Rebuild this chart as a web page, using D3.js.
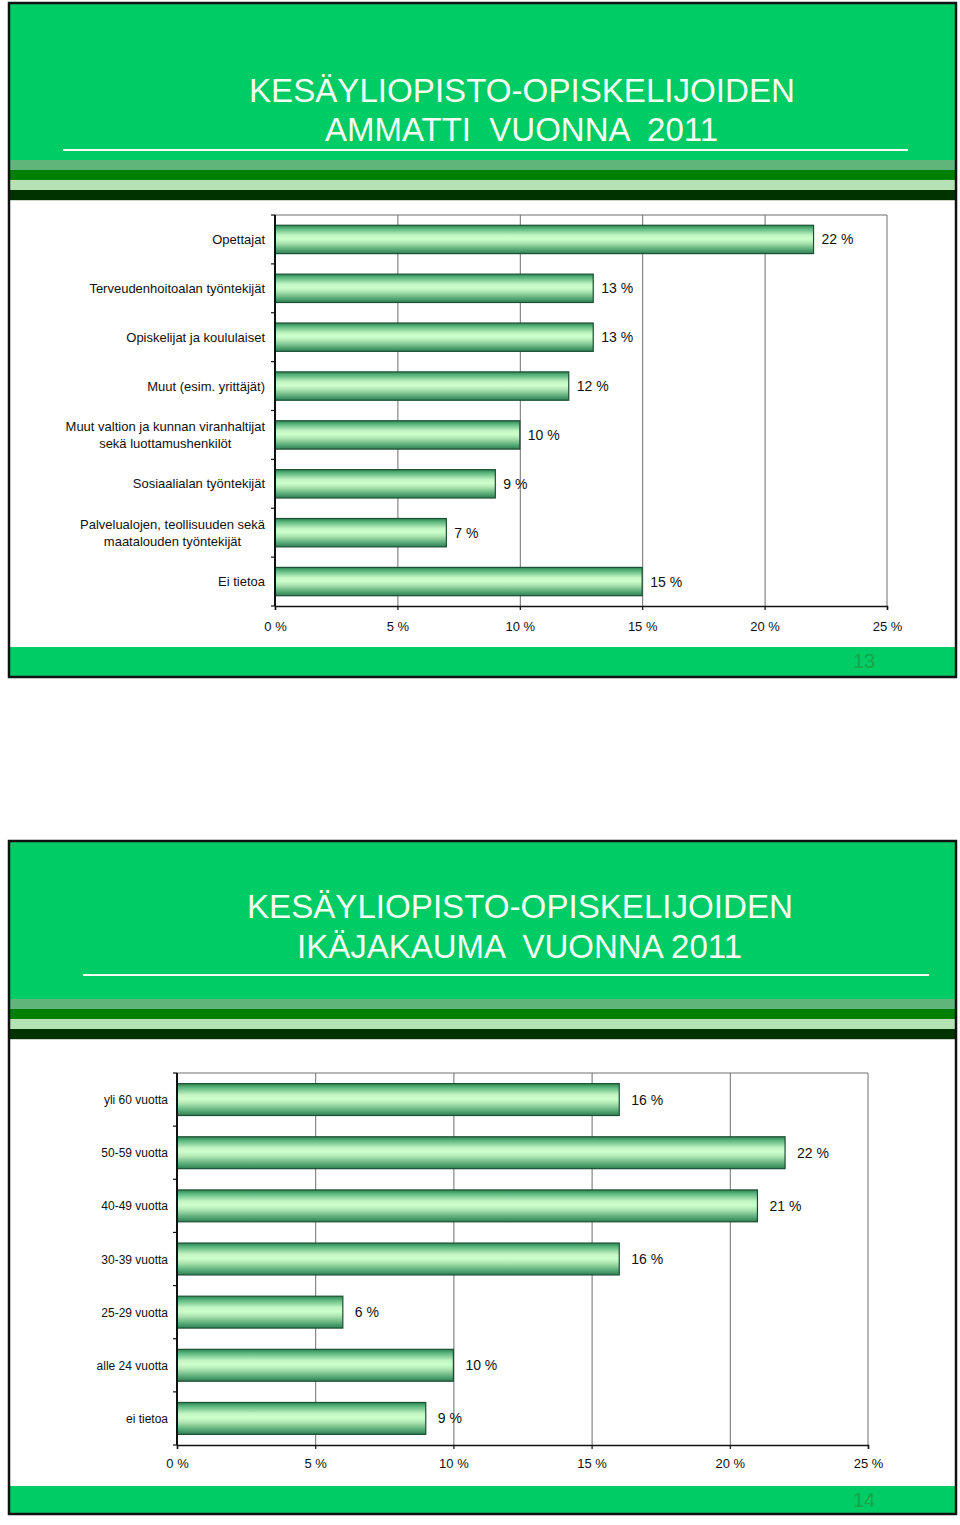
<!DOCTYPE html>
<html>
<head>
<meta charset="utf-8">
<script src="https://cdn.jsdelivr.net/npm/d3@7"></script>
<style>
  html, body { margin: 0; padding: 0; background: #ffffff; }
  svg { display: block; font-family: "Liberation Sans", Arial, Helvetica, sans-serif; }
</style>
</head>
<body>
<svg id="chart" width="960" height="1525"></svg>
<script>
// ---------- DATA ----------
const title1Lines = ["KESÄYLIOPISTO-OPISKELIJOIDEN", "AMMATTI  VUONNA  2011"];
const title2Lines = ["KESÄYLIOPISTO-OPISKELIJOIDEN", "IKÄJAKAUMA  VUONNA 2011"];

const occCategories = [
  "Opettajat",
  "Terveudenhoitoalan työntekijät",
  "Opiskelijat ja koululaiset",
  "Muut (esim. yrittäjät)",
  "Muut valtion ja kunnan viranhaltijat\nsekä luottamushenkilöt",
  "Sosiaalialan työntekijät",
  "Palvelualojen, teollisuuden sekä\nmaatalouden työntekijät",
  "Ei tietoa"
];
const occValues = [22, 13, 13, 12, 10, 9, 7, 15];

const ageCategories = [
  "yli 60 vuotta",
  "50-59 vuotta",
  "40-49 vuotta",
  "30-39 vuotta",
  "25-29 vuotta",
  "alle 24 vuotta",
  "ei tietoa"
];
const ageValues = [16, 22, 21, 16, 6, 10, 9];

const xTickValues = [0, 5, 10, 15, 20, 25];
const pageNumbers = ["13", "14"];

// ---------- DRAWING ----------
const svg = d3.select("#chart");

const defs = svg.append("defs");
const grad = defs.append("linearGradient")
  .attr("id", "barGrad").attr("x1", 0).attr("y1", 0).attr("x2", 0).attr("y2", 1);
[
  [0, "#2a8550"], [0.12, "#5cb67e"], [0.35, "#c2f5c2"], [0.48, "#ccffcc"],
  [0.62, "#aee6b2"], [0.85, "#5aab78"], [1, "#2c7f52"]
].forEach(([o, c]) => grad.append("stop").attr("offset", o).attr("stop-color", c));

const GREEN = "#00cc66";
const stripeColors = ["#5fb57a", "#008000", "#b5e2b5", "#003300"];

function drawPanel(p) {
  const g = svg.append("g");
  g.append("rect").attr("x", p.left).attr("y", p.top)
    .attr("width", p.right - p.left).attr("height", p.bottom - p.top)
    .attr("fill", "#ffffff");
  g.append("rect").attr("x", p.left).attr("y", p.top)
    .attr("width", p.right - p.left).attr("height", p.headerBottom - p.top)
    .attr("fill", GREEN);
  stripeColors.forEach((c, i) => {
    g.append("rect").attr("x", p.left).attr("y", p.headerBottom + i * 10)
      .attr("width", p.right - p.left).attr("height", 10.2).attr("fill", c);
  });
  p.titleLines.forEach((t, i) => {
    g.append("text")
      .attr("x", p.titleX[i]).attr("y", p.titleY[i])
      .attr("text-anchor", "middle")
      .attr("fill", "#f4fff4")
      .attr("font-size", 34)
      .style("white-space", "pre")
      .attr("textLength", p.titleW[i])
      .attr("lengthAdjust", "spacingAndGlyphs")
      .text(t);
  });
  g.append("line").attr("x1", p.ulX1).attr("x2", p.ulX2)
    .attr("y1", p.ulY).attr("y2", p.ulY)
    .attr("stroke", "#f4fff4").attr("stroke-width", 2);
  g.append("rect").attr("x", p.left).attr("y", p.footTop)
    .attr("width", p.right - p.left).attr("height", p.bottom - p.footTop)
    .attr("fill", GREEN);
  g.append("text").attr("x", 864).attr("y", p.footTop + 21)
    .attr("text-anchor", "middle").attr("font-size", 20)
    .attr("fill", "#17a648").text(p.pageNo);
  g.append("rect").attr("x", p.left).attr("y", p.top)
    .attr("width", p.right - p.left).attr("height", p.bottom - p.top)
    .attr("fill", "none").attr("stroke", "#111").attr("stroke-width", 2.5);
}

function drawBars(c) {
  const g = svg.append("g");
  const x = d3.scaleLinear().domain([0, 25]).range([c.x0, c.x1]);
  const y = d3.scaleBand().domain(c.categories).range([c.y0, c.y1])
    .paddingInner(c.pad).paddingOuter(c.pad / 2);
  const yOuter = d3.scaleBand().domain(c.categories).range([c.y0, c.y1]);

  g.append("g").attr("transform", `translate(0,${c.y1})`)
    .call(d3.axisBottom(x).tickValues(xTickValues.slice(1, -1)).tickSize(-(c.y1 - c.y0)).tickFormat(""))
    .call(s => s.select(".domain").remove())
    .call(s => s.selectAll("line").attr("stroke", "#6e6e6e").attr("stroke-width", 1));
  g.append("line").attr("x1", c.x0).attr("x2", x(25)).attr("y1", c.y0).attr("y2", c.y0)
    .attr("stroke", "#6e6e6e");
  g.append("line").attr("x1", x(25)).attr("x2", x(25)).attr("y1", c.y0).attr("y2", c.y1)
    .attr("stroke", "#6e6e6e");

  const vals = c.values;
  g.selectAll("rect.bar").data(c.categories).join("rect")
    .attr("class", "bar")
    .attr("x", x(0))
    .attr("y", d => y(d))
    .attr("width", (d, i) => x(vals[i]) - x(0))
    .attr("height", y.bandwidth())
    .attr("fill", "url(#barGrad)")
    .attr("stroke", "#1d4f33").attr("stroke-width", 1.2);

  g.selectAll("text.val").data(c.categories).join("text")
    .attr("class", "val")
    .attr("x", (d, i) => x(vals[i]) + c.labelGap)
    .attr("y", d => y(d) + y.bandwidth() / 2 + 5)
    .attr("font-size", 14).attr("fill", "#111")
    .text((d, i) => vals[i] + " %");

  g.append("g").attr("transform", `translate(0,${c.y1})`)
    .call(d3.axisBottom(x).tickValues(xTickValues).tickSize(4).tickPadding(c.tickPad)
      .tickFormat(d => d + " %"))
    .call(s => s.select(".domain").attr("stroke", "#111").attr("stroke-width", 1.5))
    .call(s => s.selectAll("line").attr("stroke", "#111").attr("stroke-width", 1.2))
    .call(s => s.selectAll("text").attr("font-size", 13).attr("fill", "#111")
      .attr("font-family", "'Liberation Sans', Arial, sans-serif"));

  g.append("line").attr("x1", x(0)).attr("x2", x(0)).attr("y1", c.y0).attr("y2", c.y1)
    .attr("stroke", "#111").attr("stroke-width", 2);
  const bounds = c.categories.map(d => yOuter(d)).concat([c.y1]);
  g.selectAll("line.ytick").data(bounds).join("line")
    .attr("class", "ytick")
    .attr("x1", x(0) - 4).attr("x2", x(0))
    .attr("y1", d => d).attr("y2", d => d)
    .attr("stroke", "#111").attr("stroke-width", 1.2);

  c.categories.forEach(d => {
    const lines = d.split("\n");
    const cy = yOuter(d) + yOuter.bandwidth() / 2;
    const t = g.append("text").attr("font-size", c.catFont).attr("fill", "#111");
    const lh = 17;
    lines.forEach((ln, j) => {
      t.append("tspan").attr("y", cy + 4.5 + (j - (lines.length - 1) / 2) * lh).text(ln);
    });
    if (lines.length === 1) {
      t.attr("text-anchor", "end").selectAll("tspan").attr("x", c.labelRight);
    } else {
      let maxW = 0;
      t.selectAll("tspan").each(function () { maxW = Math.max(maxW, this.getComputedTextLength()); });
      t.attr("text-anchor", "middle").selectAll("tspan").attr("x", c.labelRight - maxW / 2);
    }
  });
}

drawPanel({
  left: 9, right: 956, top: 3, bottom: 677, headerBottom: 160, footTop: 647,
  titleLines: title1Lines, titleX: [522, 521.5], titleY: [102, 141], titleW: [546, 393],
  ulX1: 63, ulX2: 908, ulY: 150, pageNo: pageNumbers[0]
});
drawBars({
  categories: occCategories, values: occValues,
  x0: 275, x1: 887, y0: 215, y1: 606, pad: 0.42,
  labelGap: 8, tickPad: 12, catFont: 13, labelRight: 265
});

drawPanel({
  left: 9, right: 956, top: 841, bottom: 1514, headerBottom: 999, footTop: 1486,
  titleLines: title2Lines, titleX: [520, 519.5], titleY: [918, 958], titleW: [546, 445],
  ulX1: 83, ulX2: 929, ulY: 975, pageNo: pageNumbers[1]
});
drawBars({
  categories: ageCategories, values: ageValues,
  x0: 177, x1: 868, y0: 1073, y1: 1445, pad: 0.4,
  labelGap: 12, tickPad: 10, catFont: 12, labelRight: 168
});
</script>
</body>
</html>
